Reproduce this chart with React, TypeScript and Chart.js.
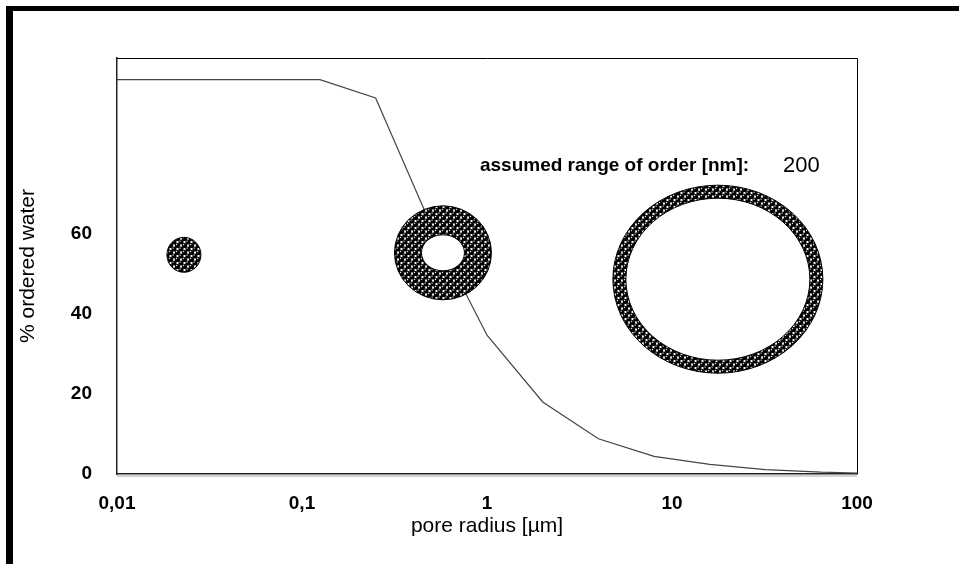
import React, { useEffect, useRef } from "react";
import { Chart, registerables } from "chart.js";

Chart.register(...registerables);

// ---- data ----
const radiusUm = [0.01, 0.125, 0.25, 0.5, 1, 2, 4, 8, 16, 32, 64, 100];
const orderedWaterPct = [98.6, 98.6, 94, 62, 34.7, 18, 8.8, 4.4, 2.4, 1.1, 0.45, 0.25];
const xTickValues = [0.01, 0.1, 1, 10, 100];
const xTickLabels = ["0,01", "0,1", "1", "10", "100"];
const yTickValues = [0, 20, 40, 60];
const yTickLabels = ["0", "20", "40", "60"];
const poreCenterX = [0.023, 0.578, 17.7];
const poreCenterY = [54.8, 55.3, 48.7];
const rangeLabel = "assumed range of order [nm]:";
const rangeValue = "200";
const rangeLabelX = [0.916];
const rangeValueX = [39.8];
const rangeLabelY = [77];

const FONT = "'Liberation Sans', Arial, sans-serif";

function makePattern(ctx: CanvasRenderingContext2D) {
  const s = 7;
  const c = document.createElement("canvas");
  c.width = s;
  c.height = s;
  const g = c.getContext("2d")!;
  g.fillStyle = "#fff";
  g.fillRect(0, 0, s, s);
  const dots = [
    [0, 0],
    [s, 0],
    [0, s],
    [s, s],
    [s / 2, s / 2],
  ];
  g.fillStyle = "#000";
  for (const [x, y] of dots) {
    g.beginPath();
    g.arc(x, y, 2.6, 0, Math.PI * 2);
    g.fill();
  }
  g.fillStyle = "#fff";
  for (const [x, y] of dots) {
    g.beginPath();
    g.arc(x - 0.9, y - 0.9, 0.7, 0, Math.PI * 2);
    g.fill();
  }
  return ctx.createPattern(c, "repeat")!;
}

// ring sizes in px (outer rx, outer ry, inner rx, inner ry)
const ringStyles = [
  [17, 17.5, 0, 0],
  [48.5, 47, 21.5, 18],
  [105, 94, 92, 81],
];

const overlayPlugin = {
  id: "overlay",
  afterDatasetsDraw(chart: any) {
    const { ctx, chartArea, scales } = chart;
    const xs = scales.x;
    const ys = scales.y;
    ctx.save();
    // plot frame
    ctx.strokeStyle = "#000";
    ctx.lineWidth = 1;
    ctx.beginPath();
    ctx.moveTo(chartArea.left, chartArea.top + 0.5);
    ctx.lineTo(chartArea.right + 0.5, chartArea.top + 0.5);
    ctx.lineTo(chartArea.right + 0.5, chartArea.bottom);
    ctx.stroke();
    ctx.strokeStyle = "#aaa";
    ctx.beginPath();
    ctx.moveTo(chartArea.left, chartArea.bottom + 2);
    ctx.lineTo(chartArea.right, chartArea.bottom + 2);
    ctx.stroke();

    const pat = makePattern(ctx);
    poreCenterX.forEach((vx, i) => {
      const cx = xs.getPixelForValue(vx);
      const cy = ys.getPixelForValue(poreCenterY[i]);
      const [orx, ory, irx, iry] = ringStyles[i];
      ctx.beginPath();
      ctx.ellipse(cx, cy, orx, ory, 0, 0, Math.PI * 2);
      ctx.fillStyle = pat;
      ctx.fill();
      ctx.strokeStyle = "#000";
      ctx.lineWidth = 1;
      ctx.stroke();
      if (irx > 0) {
        ctx.beginPath();
        ctx.ellipse(cx, cy, irx, iry, 0, 0, Math.PI * 2);
        ctx.fillStyle = "#fff";
        ctx.fill();
        ctx.stroke();
      }
    });

    ctx.fillStyle = "#000";
    ctx.textBaseline = "middle";
    ctx.textAlign = "left";
    ctx.font = `bold 19px ${FONT}`;
    ctx.fillText(rangeLabel, xs.getPixelForValue(rangeLabelX[0]), ys.getPixelForValue(rangeLabelY[0]));
    ctx.font = `22px ${FONT}`;
    ctx.fillText(rangeValue, xs.getPixelForValue(rangeValueX[0]), ys.getPixelForValue(rangeLabelY[0]));
    ctx.restore();
  },
};

export default function App() {
  const ref = useRef<HTMLCanvasElement>(null);
  useEffect(() => {
    const canvas = ref.current!;
    const chart = new Chart(canvas, {
      type: "line",
      data: {
        datasets: [
          {
            data: radiusUm.map((x, i) => ({ x, y: orderedWaterPct[i] })),
            borderColor: "#444",
            borderWidth: 1.2,
            pointRadius: 0,
            fill: false,
            tension: 0,
          },
        ],
      },
      options: {
        animation: false,
        responsive: false,
        devicePixelRatio: 1,
        layout: { padding: { top: 47, right: 102, left: 0, bottom: 0 } },
        plugins: { legend: { display: false }, tooltip: { enabled: false }, title: { display: false } },
        scales: {
          x: {
            type: "logarithmic",
            min: 0.01,
            max: 100,
            grid: { display: false, drawTicks: false },
            border: { display: true, color: "#222", width: 1.5 },
            afterBuildTicks: (s: any) => {
              s.ticks = xTickValues.map((v) => ({ value: v }));
            },
            afterFit: (s: any) => {
              s.height = 90;
            },
            ticks: {
              autoSkip: false,
              maxRotation: 0,
              padding: 18,
              color: "#000",
              font: { family: FONT, size: 19, weight: "bold" },
              callback: (v: any) => {
                const i = xTickValues.indexOf(Number(v));
                return i >= 0 ? xTickLabels[i] : "";
              },
            },
            title: {
              display: true,
              text: "pore radius [µm]",
              color: "#000",
              font: { family: FONT, size: 21 },
              padding: { top: 0, bottom: 25 },
            },
          },
          y: {
            type: "linear",
            min: 0,
            max: 104,
            grid: { display: false, drawTicks: false },
            border: { display: true, color: "#222", width: 1.5 },
            afterBuildTicks: (s: any) => {
              s.ticks = yTickValues.map((v) => ({ value: v }));
            },
            afterFit: (s: any) => {
              s.width = 104;
            },
            ticks: {
              padding: 25,
              color: "#000",
              font: { family: FONT, size: 19, weight: "bold" },
              callback: (v: any) => {
                const i = yTickValues.indexOf(Number(v));
                return i >= 0 ? yTickLabels[i] : "";
              },
            },
            title: {
              display: true,
              text: "% ordered water",
              color: "#000",
              font: { family: FONT, size: 21 },
              padding: { top: 3, bottom: 0 },
            },
          },
        },
      },
      plugins: [overlayPlugin],
    });
    return () => chart.destroy();
  }, []);

  return (
    <div
      style={{
        position: "absolute",
        left: 6,
        top: 6,
        borderTop: "5px solid #000",
        borderLeft: "7px solid #000",
        width: 946,
        height: 553,
        background: "#fff",
      }}
    >
      <canvas ref={ref} width={946} height={553} style={{ display: "block" }} />
    </div>
  );
}
